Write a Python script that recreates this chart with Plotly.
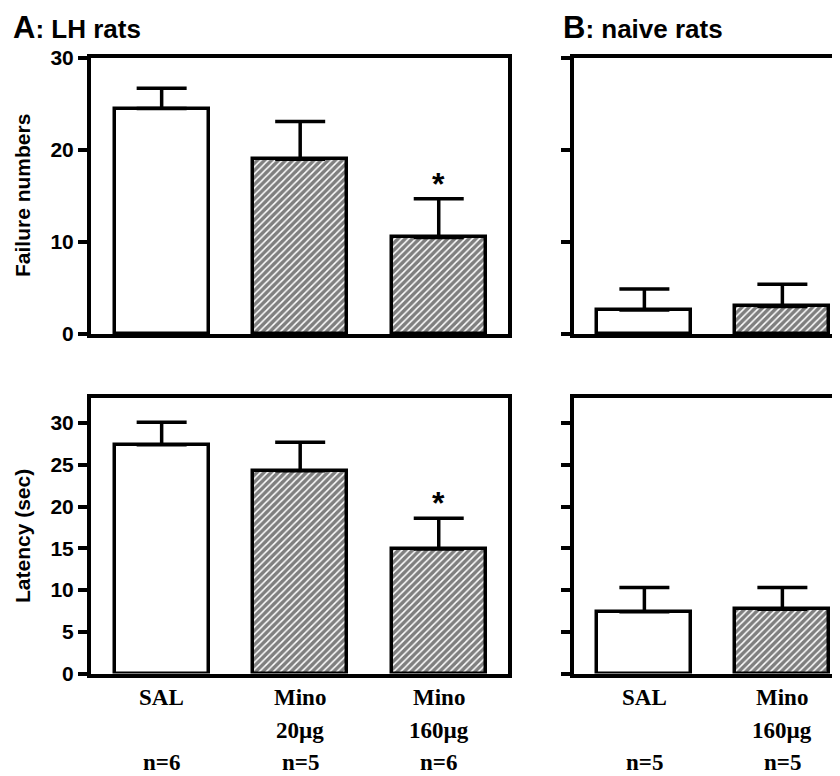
import plotly.graph_objects as go

# ---------------- data ----------------
groups_A = ["SAL", "Mino", "Mino"]
doses_A = ["", "20µg", "160µg"]
n_A = ["n=6", "n=5", "n=6"]
groups_B = ["SAL", "Mino"]
doses_B = ["", "160µg"]
n_B = ["n=5", "n=5"]

hatched_A = [False, True, True]
hatched_B = [False, True]

fail_A = [24.5, 19.0, 10.5]
fail_A_err = [2.2, 4.1, 4.2]
fail_B = [2.6, 3.0]
fail_B_err = [2.3, 2.4]

lat_A = [27.4, 24.3, 14.9]
lat_A_err = [2.7, 3.4, 3.7]
lat_B = [7.4, 7.7]
lat_B_err = [2.9, 2.6]

sig_A = [False, False, True]

fail_ticks = [0, 10, 20, 30]
lat_ticks = [0, 5, 10, 15, 20, 25, 30]

W, H = 840, 776
OFF = 8  # page body margin in the browser
SANS = "Liberation Sans"
SERIF = "Liberation Serif"

fig = go.Figure()


def add_bars(vals, errs, hatched, xa, ya):
    xs = list(range(len(vals)))
    fig.add_trace(go.Bar(
        x=xs, y=vals, width=0.68, xaxis=xa, yaxis=ya,
        marker=dict(
            color="white",
            line=dict(color="black", width=3.5),
            pattern=dict(
                shape=["/" if h else "" for h in hatched],
                fgcolor="black", bgcolor="white", size=5, solidity=0.7,
            ),
        ),
        error_y=dict(type="data", symmetric=False, array=errs,
                     arrayminus=[0] * len(errs), color="black",
                     thickness=3.5, width=25),
        showlegend=False,
    ))


add_bars(fail_A, fail_A_err, hatched_A, "x", "y")
add_bars(fail_B, fail_B_err, hatched_B, "x2", "y2")
add_bars(lat_A, lat_A_err, hatched_A, "x3", "y3")
add_bars(lat_B, lat_B_err, hatched_B, "x4", "y4")


def px_x(p):
    return (p - OFF) / W


def px_y(p):
    return 1 - (p - OFF) / H


top_dom = [px_y(334), px_y(58)]
bot_dom = [px_y(673.5), px_y(398)]
A_dom = [px_x(91), px_x(508)]
B_dom = [px_x(574), 1.0]
B_right = -0.51 + (W + OFF - 574) / 138.0

xcommon = dict(showgrid=False, zeroline=False, showticklabels=False,
               ticks="", showline=True, linecolor="black", linewidth=4,
               fixedrange=True, automargin=False)
ycommon = dict(showgrid=False, zeroline=False, showline=True,
               linecolor="black", linewidth=4, ticks="outside",
               ticklen=9, tickwidth=3.5, tickcolor="black", automargin=False,
               tickfont=dict(family=SANS, size=21, color="black", weight="bold"))

layout = dict(
    width=W, height=H,
    margin=dict(l=0, r=0, t=0, b=0, pad=0, autoexpand=False),
    paper_bgcolor="white", plot_bgcolor="white",
    bargap=0,
    xaxis=dict(xcommon, domain=A_dom, range=[-0.51, 2.5], mirror=True, anchor="y"),
    yaxis=dict(ycommon, domain=top_dom, range=[0, 30], tickvals=fail_ticks,
               mirror=True, anchor="x"),
    xaxis2=dict(xcommon, domain=B_dom, range=[-0.51, B_right], mirror=True, anchor="y2"),
    yaxis2=dict(ycommon, domain=top_dom, range=[0, 30], tickvals=fail_ticks,
                showticklabels=False, anchor="x2"),
    xaxis3=dict(xcommon, domain=A_dom, range=[-0.51, 2.5], mirror=True, anchor="y3"),
    yaxis3=dict(ycommon, domain=bot_dom, range=[0, 33], tickvals=lat_ticks,
                mirror=True, anchor="x3"),
    xaxis4=dict(xcommon, domain=B_dom, range=[-0.51, B_right], mirror=True, anchor="y4"),
    yaxis4=dict(ycommon, domain=bot_dom, range=[0, 33], tickvals=lat_ticks,
                showticklabels=False, anchor="x4"),
)
fig.update_layout(**layout)

ann = []
# panel titles
for txt, xp in [("<b><span style='font-size:31px'>A</span>: LH rats</b>", 12),
                ("<b><span style='font-size:31px'>B</span>: naive rats</b>", 562)]:
    ann.append(dict(text=txt, x=px_x(xp), y=px_y(9), xref="paper", yref="paper",
                    xanchor="left", yanchor="top", showarrow=False, borderpad=0,
                    font=dict(family=SANS, size=26, color="black")))
# y titles
ann.append(dict(text="<b>Failure numbers</b>", textangle=-90,
                x=px_x(22), y=px_y(196), xref="paper", yref="paper",
                xanchor="center", yanchor="middle", showarrow=False,
                font=dict(family=SANS, size=21, color="black")))
ann.append(dict(text="<b>Latency (sec)</b>", textangle=-90,
                x=px_x(22), y=px_y(536), xref="paper", yref="paper",
                xanchor="center", yanchor="middle", showarrow=False,
                font=dict(family=SANS, size=21, color="black")))

# category labels
rows = [697, 730, 762]
for xa, g, d, n in [("x3", groups_A, doses_A, n_A), ("x4", groups_B, doses_B, n_B)]:
    for i in range(len(g)):
        for row, txt in zip(rows, [g[i], d[i], n[i]]):
            if txt:
                ann.append(dict(text="<b>" + txt + "</b>", x=i, xref=xa,
                                y=px_y(row), yref="paper", xanchor="center",
                                yanchor="middle", showarrow=False, borderpad=0,
                                font=dict(family=SERIF, size=23, color="black")))

# significance stars
for xa, ya, vals, errs in [("x", "y", fail_A, fail_A_err), ("x3", "y3", lat_A, lat_A_err)]:
    for i, s in enumerate(sig_A):
        if s:
            ann.append(dict(text="<b>*</b>", x=i, xref=xa, y=vals[i] + errs[i],
                            yref=ya, xanchor="center", yanchor="bottom",
                            yshift=-5, showarrow=False,
                            font=dict(family=SANS, size=32, color="black")))

fig.update_layout(annotations=ann)
fig.write_html("out.html")
